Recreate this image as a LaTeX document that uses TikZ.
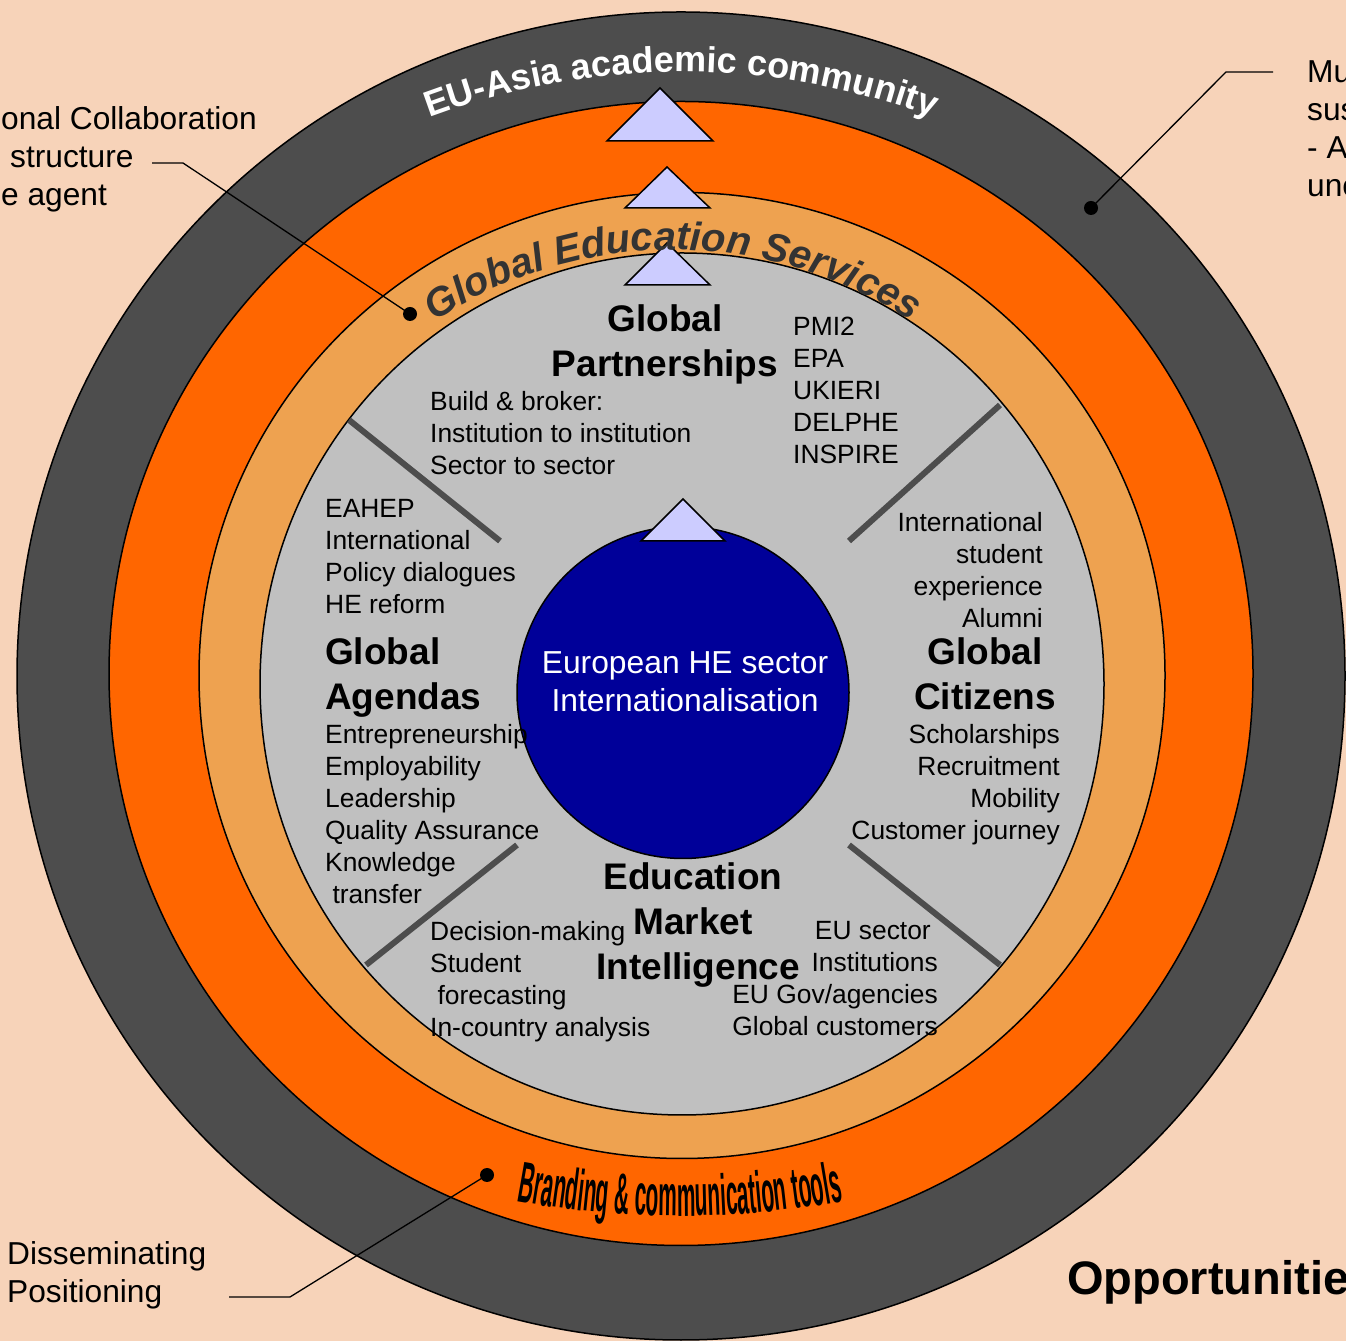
\documentclass[tikz,border=0pt]{standalone}
\usepackage{fontspec}
\setmainfont{Liberation Sans}
\newfontfamily\narrowfont[FakeStretch=0.36]{Liberation Sans}
\usetikzlibrary{decorations.text}
\definecolor{peach}{RGB}{247,211,185}
\definecolor{ringgrey}{RGB}{77,77,77}
\definecolor{ringorange}{RGB}{255,102,0}
\definecolor{ringtan}{RGB}{238,162,80}
\definecolor{coregrey}{RGB}{192,192,192}
\definecolor{coreblue}{RGB}{0,0,153}
\definecolor{lavender}{RGB}{204,204,255}
\definecolor{wordgrey}{RGB}{51,51,51}
\newcommand\eufont{\fontsize{36}{40}\selectfont\bfseries}
\newcommand\gesfont{\fontsize{40}{44}\selectfont\bfseries\itshape}
\newcommand\brandfont{\narrowfont\fontsize{58}{60}\selectfont\bfseries}

\begin{document}
\begin{tikzpicture}[x=1pt,y=1pt,
  ring/.style={draw=black,line width=1.5pt},
  arrowtri/.style={draw=black,fill=lavender,line width=1.5pt},
  spoke/.style={draw=ringgrey,line width=6pt},
  body/.style={inner sep=0pt,font=\fontsize{26.4}{32}\selectfont},
  heading/.style={inner sep=0pt,font=\fontsize{37}{44.5}\selectfont\bfseries,align=center},
  side/.style={inner sep=0pt,font=\fontsize{31.7}{38}\selectfont,align=left},
  dot/.style={circle,fill=black,inner sep=0pt,minimum size=14pt},
  callout/.style={draw=black,line width=1.3pt}]

  \useasboundingbox (0,0) rectangle (1346,1341);
  \clip (0,0) rectangle (1346,1341);
  \fill[peach] (0,0) rectangle (1346,1341);

  \draw[ring,fill=ringgrey] (681,665) circle[radius=664];
  \draw[ring,fill=ringorange] (681,667.5) circle[radius=572];
  \draw[ring,fill=ringtan] (682,665.5) circle[radius=483];
  \draw[ring,fill=coregrey] (682,657) ellipse[x radius=422,y radius=431];

  \draw[spoke] (349,921) -- (500,800);
  \draw[spoke] (1000,936) -- (849,800);
  \draw[spoke] (517,496) -- (366,376);
  \draw[spoke] (849,496) -- (1000,376);

  \draw[ring,fill=coreblue] (683,648.5) circle[radius=166];

  \draw[arrowtri] (660,1253) -- (607,1200) -- (713,1200) -- cycle;
  \draw[arrowtri] (667,1174) -- (625,1133) -- (710,1133) -- cycle;
  \draw[arrowtri] (667,1098) -- (625,1056) -- (710,1056) -- cycle;
  \draw[arrowtri] (683,842) -- (641,800) -- (725,800) -- cycle;

  \path[decorate,decoration={text along path,text align=center,text color=white,
      text={|\eufont|EU-Asia academic community}}]
    ([shift={(125:720)}]681,549) arc[start angle=125,end angle=55,radius=720];
  \path[decorate,decoration={text along path,text align=center,text color=wordgrey,
      text={|\gesfont|Global Education Services}}]
    ([shift={(150:433)}]673,658) arc[start angle=150,end angle=30,radius=433];
  \path[decorate,decoration={text along path,text align=center,text color=black,
      text={|\brandfont|Branding {\&} communication tools}}]
    ([shift={(250:900)}]680,1025) arc[start angle=250,end angle=290,radius=900];

  \node[heading,anchor=north] (partner) at (665,1036.3) {Global\\Partnerships};
  \node[body,anchor=north west,align=left] (broker) at (430,949.5) {Build \& broker:\\Institution to institution\\Sector to sector};
  \node[body,anchor=north west,align=left] (schemes) at (793,1024.5) {PMI2\\EPA\\UKIERI\\DELPHE\\INSPIRE};

  \node[body,anchor=north west,align=left] (policy) at (325,841.5) {EAHEP\\International\\Policy dialogues\\HE reform};
  \node[heading,anchor=north west,align=left] (agenda) at (325,703.3) {Global\\Agendas};
  \node[body,anchor=north west,align=left] (skills) at (325,616.5) {Entrepreneurship\\Employability\\Leadership\\Quality Assurance\\Knowledge\\\ transfer};

  \node[body,anchor=north east,align=right] (student) at (1043,828.5) {International\\student\\experience\\Alumni};
  \node[heading,anchor=north] (citizen) at (985,703.3) {Global\\Citizens};
  \node[body,anchor=north east,align=right] (mobility) at (1060,616.5) {Scholarships\\Recruitment\\Mobility\\Customer journey};

  \node[heading,anchor=north,font=\fontsize{37}{45}\selectfont\bfseries] (market) at (693,478.3) {Education\\Market\\\hspace*{10pt}Intelligence};
  \node[body,anchor=north west,align=left] (forecast) at (430,419.5) {Decision-making\\Student\\\ forecasting\\In-country analysis};
  \node[body,anchor=north east,align=right] (sector) at (938,419.5) {EU sector\hspace*{7pt}\\Institutions\\EU Gov/agencies\\Global customers};

  \node[anchor=north,align=center,inner sep=0pt,text=white,font=\fontsize{31.8}{38}\selectfont] (core) at (685,689.4) {European HE sector\\Internationalisation};

  \node[side,anchor=north west] (collab) at (1,1234.4) {onal Collaboration\\\hspace*{9pt}structure\\e agent};
  \node[side,anchor=north west] (sustain) at (1307,1280.4) {Mu\\sus\\- A\\une};
  \node[side,anchor=north west] (spread) at (7,99.4) {Disseminating\\Positioning};
  \node[anchor=north west,inner sep=0pt,font=\fontsize{47}{50}\selectfont\bfseries] (oppo) at (1067,81) {Opportunities};

  \node[dot] (dotTL) at (410,1027) {};
  \coordinate (kneeTL) at (183,1178);
  \coordinate (endTL) at (152,1178);
  \draw[callout] (dotTL.center) -- (kneeTL) -- (endTL);

  \node[dot] (dotTR) at (1091,1133) {};
  \coordinate (kneeTR) at (1226,1269);
  \coordinate (endTR) at (1273,1269);
  \draw[callout] (dotTR.center) -- (kneeTR) -- (endTR);

  \node[dot] (dotBL) at (487,166) {};
  \coordinate (kneeBL) at (290,44);
  \coordinate (endBL) at (229,44);
  \draw[callout] (dotBL.center) -- (kneeBL) -- (endBL);
\end{tikzpicture}
\end{document}
